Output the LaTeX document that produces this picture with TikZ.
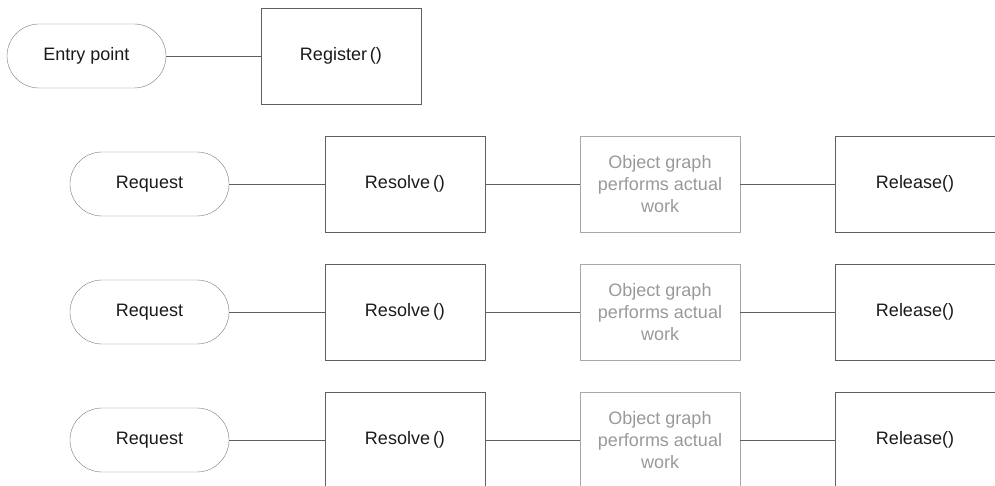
\documentclass[tikz,border=0pt]{standalone}
\usepackage{fontspec}
\setmainfont{Liberation Sans}
\usetikzlibrary{positioning}

\definecolor{linegray}{HTML}{606060}
\definecolor{pillgray}{HTML}{7A7A7A}
\definecolor{palegray}{HTML}{A8A8A8}
\definecolor{palefont}{HTML}{999999}
\definecolor{inkgray}{HTML}{1A1A1A}

\begin{document}
\begin{tikzpicture}[
    x=1pt, y=-1pt,
    every node/.style={font=\fontsize{18}{21.7}\selectfont, text=inkgray, inner sep=0pt},
    pill/.style={draw=pillgray, rounded corners=32pt, minimum width=159pt, minimum height=64pt},
    callbox/.style={draw=linegray, minimum width=160pt, minimum height=96pt},
    workbox/.style={draw=palegray, text=palefont, minimum width=160pt, minimum height=96pt, align=center},
    link/.style={draw=linegray, line width=0.8pt}
]
\useasboundingbox (0,0) rectangle (995,486);

\node at (86.5,56) [pill] (entry) {Entry point};
\node at (341,56) [callbox] (register) {Register\,()};
\draw[link] (entry) -- (register);

% first request
\node at (149.5,184) [pill] (req1) {Request};
\node at (405,184) [callbox] (res1) {Resolve\,()};
\node at (660,184) [workbox] (obj1) {Object graph\\performs actual\\work};
\node at (915,184) [callbox] (rel1) {Release()};
\draw[link] (req1) -- (res1);
\draw[link] (res1) -- (obj1);
\draw[link] (obj1) -- (rel1);

% second request
\node at (149.5,312) [pill] (req2) {Request};
\node at (405,312) [callbox] (res2) {Resolve\,()};
\node at (660,312) [workbox] (obj2) {Object graph\\performs actual\\work};
\node at (915,312) [callbox] (rel2) {Release()};
\draw[link] (req2) -- (res2);
\draw[link] (res2) -- (obj2);
\draw[link] (obj2) -- (rel2);

% third request
\node at (149.5,440) [pill] (req3) {Request};
\node at (405,440) [callbox] (res3) {Resolve\,()};
\node at (660,440) [workbox] (obj3) {Object graph\\performs actual\\work};
\node at (915,440) [callbox] (rel3) {Release()};
\draw[link] (req3) -- (res3);
\draw[link] (res3) -- (obj3);
\draw[link] (obj3) -- (rel3);
\end{tikzpicture}
\end{document}
